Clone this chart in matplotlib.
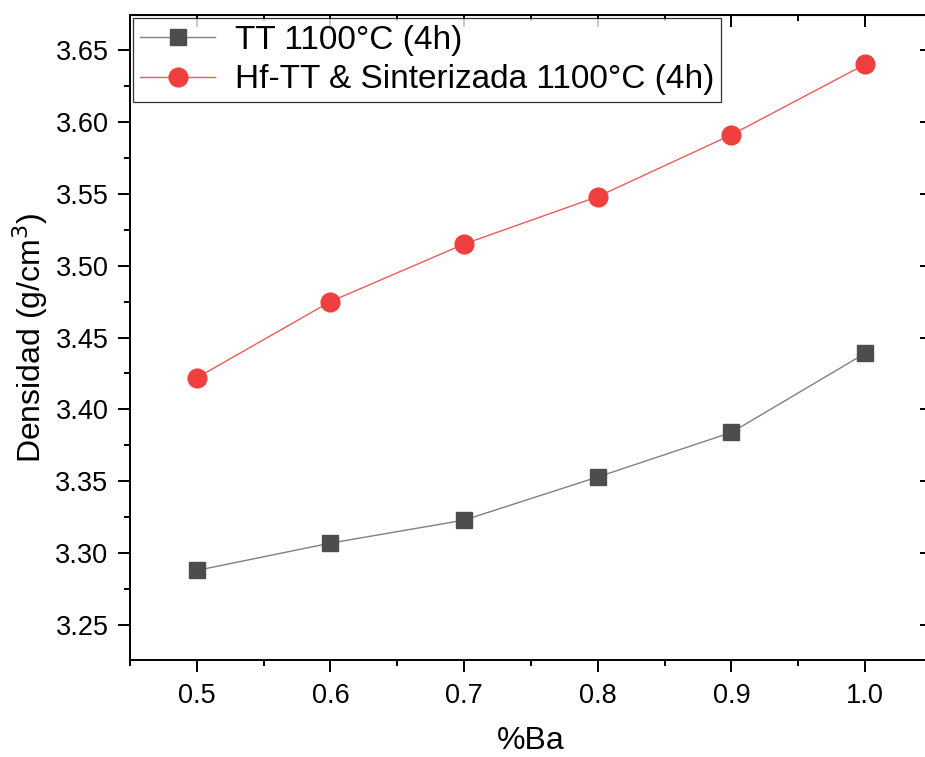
import matplotlib
matplotlib.use('Agg')
import matplotlib.pyplot as plt
from matplotlib.ticker import MultipleLocator

plt.rcParams['font.family'] = ['Liberation Sans', 'DejaVu Sans']

# data
ba = [0.5, 0.6, 0.7, 0.8, 0.9, 1.0]
dens_tt = [3.288, 3.307, 3.323, 3.353, 3.384, 3.439]
dens_hf = [3.422, 3.475, 3.515, 3.548, 3.591, 3.640]
labels = ['TT 1100°C (4h)', 'Hf-TT & Sinterizada 1100°C (4h)']

fig = plt.figure(figsize=(9.25, 7.57), dpi=100)
ax = fig.add_axes([130/925, 1 - 660/757, (932 - 130)/925, (660 - 15)/757])

ax.plot(ba, dens_tt, color='#808080', lw=1.0, marker='s', ms=12,
        mfc='#4d4d4d', mec='#4d4d4d', label=labels[0], zorder=3)
ax.plot(ba, dens_hf, color='#f05a5a', lw=1.0, marker='o', ms=13.5,
        mfc='#ef3f3f', mec='#ef3f3f', label=labels[1], zorder=3)

ax.set_xlim(0.45, 1.05)
ax.set_ylim(3.2257, 3.6743)
ax.xaxis.set_major_locator(MultipleLocator(0.1))
ax.xaxis.set_minor_locator(MultipleLocator(0.05))
ax.yaxis.set_major_locator(MultipleLocator(0.05))
ax.yaxis.set_minor_locator(MultipleLocator(0.025))
ax.set_xticks([0.5, 0.6, 0.7, 0.8, 0.9, 1.0])
ax.set_xticklabels(['0.5', '0.6', '0.7', '0.8', '0.9', '1.0'])
ax.yaxis.set_major_formatter(plt.FormatStrFormatter('%.2f'))

for s in ax.spines.values():
    s.set_linewidth(1.4)
ax.tick_params(which='both', width=1.4, labelsize=19.5)
ax.tick_params(which='major', length=8.5)
ax.tick_params(which='minor', length=4.5)
ax.tick_params(axis='x', which='both', direction='out', pad=8)
ax.tick_params(axis='y', which='both', direction='out', pad=7)

# mirrored inward ticks on top / right
top = ax.secondary_xaxis('top')
top.set_xticks(ax.get_xticks())
top.xaxis.set_minor_locator(MultipleLocator(0.05))
top.tick_params(which='both', direction='in', labeltop=False, width=1.4)
top.tick_params(which='major', length=8.5)
top.tick_params(which='minor', length=4.5)
right = ax.secondary_yaxis('right')
right.yaxis.set_major_locator(MultipleLocator(0.05))
right.yaxis.set_minor_locator(MultipleLocator(0.025))
right.tick_params(which='both', direction='in', labelright=False, width=1.4)
right.tick_params(which='major', length=8.5)
right.tick_params(which='minor', length=4.5)

ax.set_xlabel('%Ba', fontsize=23, labelpad=12)
ax.set_ylabel('Densidad (g/cm$^3$)', fontsize=23, labelpad=4)

leg = ax.legend(loc='upper left', bbox_to_anchor=(0, 1), borderaxespad=0.1,
                fontsize=24, frameon=True, fancybox=False, edgecolor='black',
                handlelength=2.25, handletextpad=0.6, borderpad=0.2,
                labelspacing=0.25)
leg.get_frame().set_linewidth(0.9)

fig.savefig('out.png', dpi=100)
